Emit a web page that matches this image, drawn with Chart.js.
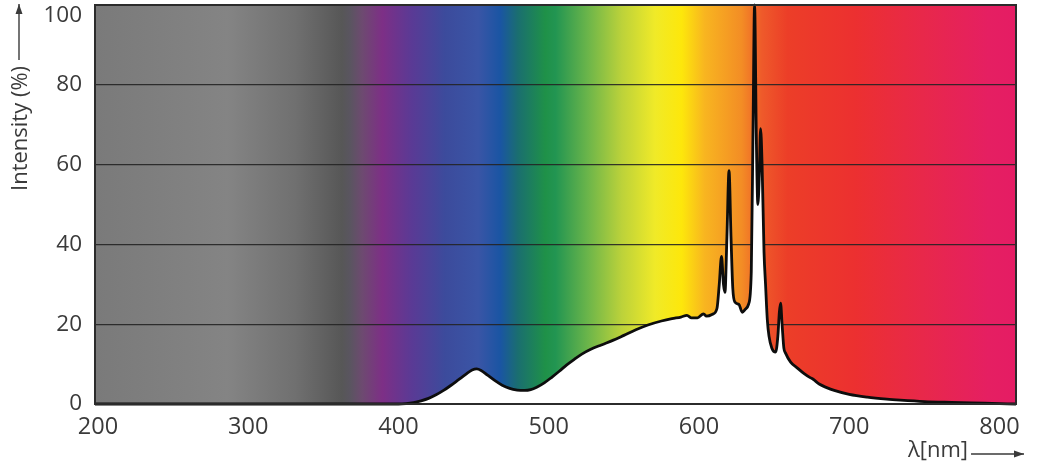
<!DOCTYPE html>
<html><head><meta charset="utf-8">
<script src="https://cdn.jsdelivr.net/npm/chart.js@4.4.1/dist/chart.umd.min.js"></script>
<style>html,body{margin:0;padding:0;background:#fff;overflow:hidden}</style>
</head><body>
<canvas id="c" width="1052" height="469"></canvas>
<script>
const wavelengths = [198,400,405,410,415,420,425,430,435,440,445,449,452,455,459,464,469,474,479,484,488,492,497,502,507,512,517,522,528,535,543,550,558,566,575,582,588,592,595,599,603,605,609,612,613.5,615,616.3,617.3,618.6,620,621.3,622.5,624,626.5,628.8,631,633,634.8,636,637,638.2,639.2,640.2,641,642,643.3,644.3,645.5,646.6,648.5,651,652.5,653.5,654.3,655.3,656.5,657.7,661,665.5,670,674,676,680,685,690,700,712,725,734,750,768,790,811];
const intensities = [0,0,0.1,0.35,0.8,1.4,2.3,3.4,4.7,6.1,7.5,8.5,8.8,8.4,7.3,5.9,4.7,3.9,3.5,3.4,3.6,4.2,5.3,6.7,8.2,9.8,11.2,12.5,13.7,14.8,16.0,17.2,18.6,19.8,20.8,21.4,21.8,22.2,21.6,21.6,22.6,22.0,22.5,24,30,37,30,28,42,58.5,42,29,25.5,25,23,23.8,25,33,70,100,66,50,58,69,60,38,30,21,17,14,13,17,23,25.3,20,14,12.7,10.5,9.0,7.6,6.6,6.2,5.0,4.1,3.4,2.4,1.7,1.2,0.95,0.6,0.4,0.2,0];
const xTicks = [200,300,400,500,600,700,800];
const yTicks = [0,20,40,60,80,100];
const xTitle = 'λ[nm]';
const yTitle = 'Intensity (%)';

const FONT = "'Open Sans', 'DejaVu Sans', sans-serif";
const TXT = '#3a3a3a';

const spectrumStops = [
  [0,'#7a7a7a'],[0.144,'#848484'],[0.217,'#707070'],[0.268,'#575757'],[0.277,'#5a5560'],
  [0.29,'#6d4a70'],[0.312,'#7d2f86'],[0.344,'#5a3a95'],[0.38,'#3c4b9c'],[0.416,'#3a55a6'],
  [0.44,'#1a55a3'],[0.459,'#1a6e70'],[0.489,'#1f9148'],[0.5,'#229552'],[0.535,'#6bb54a'],
  [0.572,'#bcd23a'],[0.608,'#f0ea28'],[0.637,'#fde70b'],[0.662,'#f8b520'],[0.702,'#f38d25'],
  [0.724,'#ee5a2a'],[0.752,'#ec3e28'],[0.825,'#ec3030'],[0.898,'#e8284a'],[0.97,'#e51f62'],[1,'#e51c64']
];

const bgPlugin = {
  id: 'spectrumBg',
  beforeDraw(chart) {
    const {ctx, chartArea: a} = chart;
    const g = ctx.createLinearGradient(a.left, 0, a.right, 0);
    spectrumStops.forEach(([o, c]) => g.addColorStop(o, c));
    ctx.save();
    ctx.fillStyle = g;
    ctx.fillRect(a.left, a.top, a.right - a.left, a.bottom - a.top);
    ctx.restore();
  }
};

function arrow(ctx, x1, y1, x2, y2) {
  ctx.beginPath(); ctx.moveTo(x1, y1); ctx.lineTo(x2, y2); ctx.stroke();
  const ang = Math.atan2(y2 - y1, x2 - x1);
  const L = 10, W = 3.5;
  ctx.beginPath();
  ctx.moveTo(x2, y2);
  ctx.lineTo(x2 - L * Math.cos(ang) + W * Math.sin(ang), y2 - L * Math.sin(ang) - W * Math.cos(ang));
  ctx.lineTo(x2 - L * Math.cos(ang) - W * Math.sin(ang), y2 - L * Math.sin(ang) + W * Math.cos(ang));
  ctx.closePath(); ctx.fill();
}

const framePlugin = {
  id: 'frameTitles',
  afterDraw(chart) {
    const {ctx, chartArea: a} = chart;
    ctx.save();
    ctx.strokeStyle = '#2b2b2b';
    ctx.lineWidth = 2;
    ctx.strokeRect(a.left, a.top, a.right - a.left, a.bottom - a.top);
    // y title
    ctx.fillStyle = TXT; ctx.strokeStyle = TXT; ctx.lineWidth = 1.4;
    ctx.font = "22px " + FONT;
    ctx.save();
    ctx.translate(21, 191);
    ctx.rotate(-Math.PI / 2);
    ctx.textAlign = 'left'; ctx.textBaseline = 'middle';
    ctx.fillText(yTitle, 0, 0);
    const w = ctx.measureText(yTitle).width;
    ctx.restore();
    arrow(ctx, 19, 191 - w - 6, 19, 4);
    // x title
    ctx.font = "22px " + FONT;
    ctx.textAlign = 'left'; ctx.textBaseline = 'middle';
    ctx.fillText(xTitle, 908, 451);
    const w2 = ctx.measureText(xTitle).width;
    arrow(ctx, 908 + w2 + 3, 454, 1024, 454);
    ctx.restore();
  }
};

new Chart(document.getElementById('c'), {
  type: 'line',
  data: {
    datasets: [{
      data: wavelengths.map((x, i) => ({x, y: intensities[i]})),
      borderColor: '#0d0d0d',
      borderWidth: 2.8,
      backgroundColor: '#ffffff',
      fill: 'origin',
      pointRadius: 0,
      cubicInterpolationMode: 'monotone',
      clip: false
    }]
  },
  options: {
    responsive: false,
    animation: false,
    devicePixelRatio: 1,
    layout: {padding: {top: 5, right: 36, bottom: 0, left: 0}},
    plugins: {legend: {display: false}, tooltip: {enabled: false}},
    scales: {
      x: {
        type: 'linear', min: 198, max: 811,
        afterBuildTicks: s => { s.ticks = xTicks.map(v => ({value: v})); },
        afterFit: s => { s.height = 65; s.paddingLeft = 0; s.paddingRight = 0; },
        grid: {display: false, drawTicks: false},
        border: {display: false},
        ticks: {color: TXT, font: {family: FONT, size: 23.5}, padding: 9, maxRotation: 0, autoSkip: false}
      },
      y: {
        min: 0, max: 100,
        afterBuildTicks: s => { s.ticks = yTicks.map(v => ({value: v})); },
        afterFit: s => { s.width = 95; s.paddingTop = 0; s.paddingBottom = 0; },
        grid: {color: 'rgba(35,35,35,0.9)', lineWidth: 1.2, drawTicks: false},
        border: {display: false},
        ticks: {
          color: TXT, font: {family: FONT, size: 22.5, lineHeight: 0.95}, padding: 13,
          callback: v => v === 100 ? ['', '100'] : String(v)
        }
      }
    }
  },
  plugins: [bgPlugin, framePlugin]
});
</script>
</body></html>
